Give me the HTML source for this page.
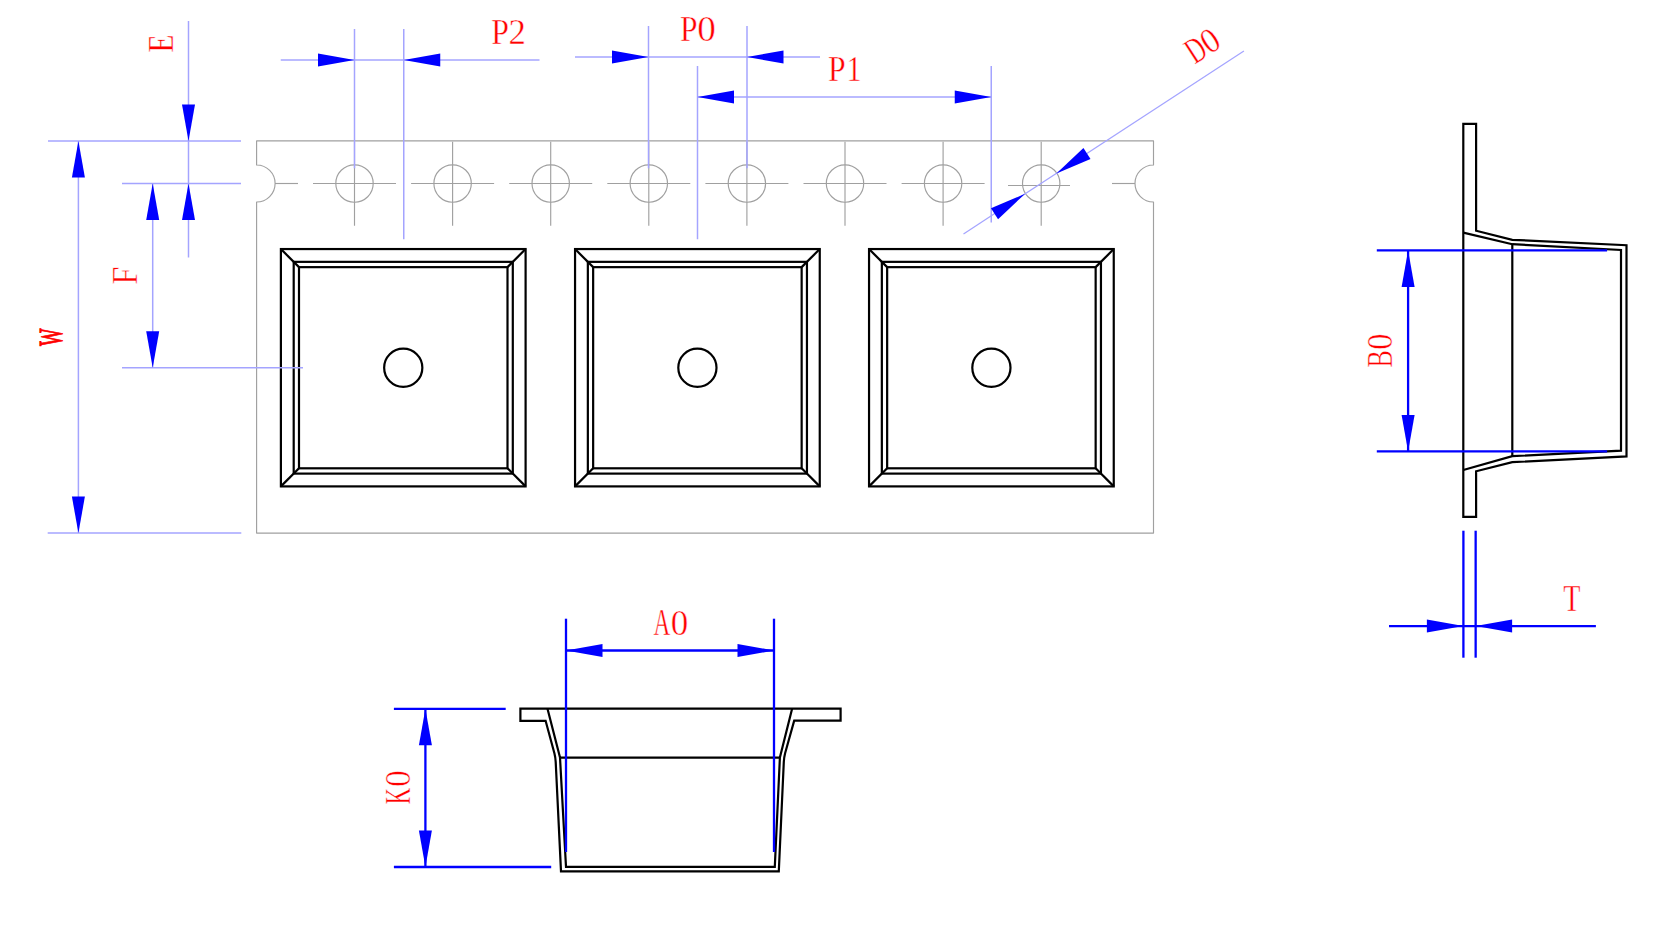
<!DOCTYPE html>
<html><head><meta charset="utf-8"><title>Carrier tape drawing</title>
<style>html,body{margin:0;padding:0;background:#fff;overflow:hidden}svg{display:block}</style></head>
<body><svg width="1666" height="930" viewBox="0 0 1666 930" font-family="Liberation Serif, serif">
<rect width="1666" height="930" fill="#fff"/>
<path d="M256.6,140.9 H1153.5 V165.0 A18.5,18.5 0 0 0 1153.5,202.0 V533.1 H256.6 V202.0 A18.5,18.5 0 0 0 256.6,165.0 Z" stroke="#a0a0a0" stroke-width="1.15" fill="none" stroke-linejoin="round"/>
<circle cx="354.50" cy="183.50" r="18.70" stroke="#a0a0a0" stroke-width="1.15" fill="none"/>
<line x1="354.50" y1="141.75" x2="354.50" y2="225.75" stroke="#a0a0a0" stroke-width="1.15"/>
<line x1="313.00" y1="183.50" x2="396.00" y2="183.50" stroke="#a0a0a0" stroke-width="1.15"/>
<circle cx="452.60" cy="183.50" r="18.70" stroke="#a0a0a0" stroke-width="1.15" fill="none"/>
<line x1="452.60" y1="141.75" x2="452.60" y2="225.75" stroke="#a0a0a0" stroke-width="1.15"/>
<line x1="411.10" y1="183.50" x2="494.10" y2="183.50" stroke="#a0a0a0" stroke-width="1.15"/>
<circle cx="550.70" cy="183.50" r="18.70" stroke="#a0a0a0" stroke-width="1.15" fill="none"/>
<line x1="550.70" y1="141.75" x2="550.70" y2="225.75" stroke="#a0a0a0" stroke-width="1.15"/>
<line x1="509.20" y1="183.50" x2="592.20" y2="183.50" stroke="#a0a0a0" stroke-width="1.15"/>
<circle cx="648.80" cy="183.50" r="18.70" stroke="#a0a0a0" stroke-width="1.15" fill="none"/>
<line x1="648.80" y1="141.75" x2="648.80" y2="225.75" stroke="#a0a0a0" stroke-width="1.15"/>
<line x1="607.30" y1="183.50" x2="690.30" y2="183.50" stroke="#a0a0a0" stroke-width="1.15"/>
<circle cx="746.90" cy="183.50" r="18.70" stroke="#a0a0a0" stroke-width="1.15" fill="none"/>
<line x1="746.90" y1="141.75" x2="746.90" y2="225.75" stroke="#a0a0a0" stroke-width="1.15"/>
<line x1="705.40" y1="183.50" x2="788.40" y2="183.50" stroke="#a0a0a0" stroke-width="1.15"/>
<circle cx="845.00" cy="183.50" r="18.70" stroke="#a0a0a0" stroke-width="1.15" fill="none"/>
<line x1="845.00" y1="141.75" x2="845.00" y2="225.75" stroke="#a0a0a0" stroke-width="1.15"/>
<line x1="803.50" y1="183.50" x2="886.50" y2="183.50" stroke="#a0a0a0" stroke-width="1.15"/>
<circle cx="943.10" cy="183.50" r="18.70" stroke="#a0a0a0" stroke-width="1.15" fill="none"/>
<line x1="943.10" y1="141.75" x2="943.10" y2="225.75" stroke="#a0a0a0" stroke-width="1.15"/>
<line x1="901.60" y1="183.50" x2="984.60" y2="183.50" stroke="#a0a0a0" stroke-width="1.15"/>
<circle cx="1041.20" cy="183.50" r="18.70" stroke="#a0a0a0" stroke-width="1.15" fill="none"/>
<line x1="1041.20" y1="141.75" x2="1041.20" y2="225.75" stroke="#a0a0a0" stroke-width="1.15"/>
<line x1="275.00" y1="183.50" x2="298.00" y2="183.50" stroke="#a0a0a0" stroke-width="1.15"/>
<line x1="1008.00" y1="185.50" x2="1070.00" y2="185.50" stroke="#a0a0a0" stroke-width="1.15"/>
<line x1="1112.00" y1="183.50" x2="1135.00" y2="183.50" stroke="#a0a0a0" stroke-width="1.15"/>
<rect x="280.90" y="249.05" width="244.70" height="237.35" stroke="#000" stroke-width="2.2" fill="none"/>
<rect x="293.70" y="261.85" width="219.10" height="211.75" stroke="#000" stroke-width="2.2" fill="none"/>
<rect x="299.00" y="267.15" width="208.50" height="201.15" stroke="#000" stroke-width="2.2" fill="none"/>
<line x1="280.90" y1="249.05" x2="299.00" y2="267.15" stroke="#000" stroke-width="2.2"/>
<line x1="525.60" y1="249.05" x2="507.50" y2="267.15" stroke="#000" stroke-width="2.2"/>
<line x1="280.90" y1="486.40" x2="299.00" y2="468.30" stroke="#000" stroke-width="2.2"/>
<line x1="525.60" y1="486.40" x2="507.50" y2="468.30" stroke="#000" stroke-width="2.2"/>
<circle cx="403.25" cy="367.70" r="19.10" stroke="#000" stroke-width="2.2" fill="none"/>
<rect x="575.05" y="249.05" width="244.70" height="237.35" stroke="#000" stroke-width="2.2" fill="none"/>
<rect x="587.85" y="261.85" width="219.10" height="211.75" stroke="#000" stroke-width="2.2" fill="none"/>
<rect x="593.15" y="267.15" width="208.50" height="201.15" stroke="#000" stroke-width="2.2" fill="none"/>
<line x1="575.05" y1="249.05" x2="593.15" y2="267.15" stroke="#000" stroke-width="2.2"/>
<line x1="819.75" y1="249.05" x2="801.65" y2="267.15" stroke="#000" stroke-width="2.2"/>
<line x1="575.05" y1="486.40" x2="593.15" y2="468.30" stroke="#000" stroke-width="2.2"/>
<line x1="819.75" y1="486.40" x2="801.65" y2="468.30" stroke="#000" stroke-width="2.2"/>
<circle cx="697.40" cy="367.70" r="19.10" stroke="#000" stroke-width="2.2" fill="none"/>
<rect x="869.05" y="249.05" width="244.70" height="237.35" stroke="#000" stroke-width="2.2" fill="none"/>
<rect x="881.85" y="261.85" width="219.10" height="211.75" stroke="#000" stroke-width="2.2" fill="none"/>
<rect x="887.15" y="267.15" width="208.50" height="201.15" stroke="#000" stroke-width="2.2" fill="none"/>
<line x1="869.05" y1="249.05" x2="887.15" y2="267.15" stroke="#000" stroke-width="2.2"/>
<line x1="1113.75" y1="249.05" x2="1095.65" y2="267.15" stroke="#000" stroke-width="2.2"/>
<line x1="869.05" y1="486.40" x2="887.15" y2="468.30" stroke="#000" stroke-width="2.2"/>
<line x1="1113.75" y1="486.40" x2="1095.65" y2="468.30" stroke="#000" stroke-width="2.2"/>
<circle cx="991.40" cy="367.70" r="19.10" stroke="#000" stroke-width="2.2" fill="none"/>
<line x1="48.00" y1="140.90" x2="241.00" y2="140.90" stroke="#a4a4ff" stroke-width="1.5"/>
<line x1="122.00" y1="183.50" x2="241.00" y2="183.50" stroke="#a4a4ff" stroke-width="1.5"/>
<line x1="78.40" y1="140.90" x2="78.40" y2="533.10" stroke="#a4a4ff" stroke-width="1.5"/>
<line x1="47.70" y1="533.10" x2="241.30" y2="533.10" stroke="#a4a4ff" stroke-width="1.5"/>
<line x1="188.50" y1="21.00" x2="188.50" y2="257.50" stroke="#a4a4ff" stroke-width="1.5"/>
<line x1="152.70" y1="183.50" x2="152.70" y2="367.70" stroke="#a4a4ff" stroke-width="1.5"/>
<line x1="122.00" y1="367.70" x2="303.00" y2="367.70" stroke="#a4a4ff" stroke-width="1.5"/>
<line x1="280.75" y1="60.00" x2="539.50" y2="60.00" stroke="#a4a4ff" stroke-width="1.5"/>
<line x1="354.50" y1="29.00" x2="354.50" y2="168.30" stroke="#a4a4ff" stroke-width="1.5"/>
<line x1="403.75" y1="29.00" x2="403.75" y2="239.25" stroke="#a4a4ff" stroke-width="1.5"/>
<line x1="575.00" y1="57.00" x2="820.00" y2="57.00" stroke="#a4a4ff" stroke-width="1.5"/>
<line x1="648.50" y1="26.00" x2="648.50" y2="168.30" stroke="#a4a4ff" stroke-width="1.5"/>
<line x1="747.00" y1="26.00" x2="747.00" y2="168.30" stroke="#a4a4ff" stroke-width="1.5"/>
<line x1="697.50" y1="66.00" x2="697.50" y2="239.25" stroke="#a4a4ff" stroke-width="1.5"/>
<line x1="697.50" y1="97.00" x2="991.25" y2="97.00" stroke="#a4a4ff" stroke-width="1.5"/>
<line x1="991.25" y1="66.00" x2="991.25" y2="222.50" stroke="#a4a4ff" stroke-width="1.5"/>
<line x1="963.50" y1="233.90" x2="1243.90" y2="51.00" stroke="#a4a4ff" stroke-width="1.25"/>
<polygon points="188.50,140.90 182.00,104.40 195.00,104.40" fill="#0000ff"/>
<polygon points="188.50,183.50 195.00,220.00 182.00,220.00" fill="#0000ff"/>
<polygon points="78.40,140.90 84.90,177.40 71.90,177.40" fill="#0000ff"/>
<polygon points="78.40,533.10 71.90,496.60 84.90,496.60" fill="#0000ff"/>
<polygon points="152.70,183.50 159.20,220.00 146.20,220.00" fill="#0000ff"/>
<polygon points="152.70,367.70 146.20,331.20 159.20,331.20" fill="#0000ff"/>
<polygon points="354.50,60.00 318.00,66.50 318.00,53.50" fill="#0000ff"/>
<polygon points="403.75,60.00 440.25,53.50 440.25,66.50" fill="#0000ff"/>
<polygon points="648.50,57.00 612.00,63.50 612.00,50.50" fill="#0000ff"/>
<polygon points="747.00,57.00 783.50,50.50 783.50,63.50" fill="#0000ff"/>
<polygon points="697.50,97.00 734.00,90.50 734.00,103.50" fill="#0000ff"/>
<polygon points="991.25,97.00 954.75,103.50 954.75,90.50" fill="#0000ff"/>
<polygon points="1056.41,173.38 1083.43,148.00 1090.53,158.89" fill="#0000ff"/>
<polygon points="1025.09,193.82 998.07,219.20 990.97,208.31" fill="#0000ff"/>
<path d="M1463.3,123.8 H1476.1 V230.7 L1512.3,239.8 L1626.5,245.2 V456.4 L1512.3,462.2 L1476.1,471.3 V516.8 H1463.3 Z" stroke="#000" stroke-width="2.2" fill="none" />
<path d="M1463.3,232.6 L1512.3,244.2 L1621,250 V450.6 L1512.3,456.2 L1463.3,470" stroke="#000" stroke-width="2.2" fill="none" />
<line x1="1512.30" y1="244.20" x2="1512.30" y2="456.20" stroke="#000" stroke-width="2.2"/>
<line x1="1376.80" y1="250.40" x2="1607.10" y2="250.40" stroke="#0000ff" stroke-width="2.3"/>
<line x1="1376.80" y1="451.40" x2="1607.10" y2="451.40" stroke="#0000ff" stroke-width="2.3"/>
<line x1="1408.10" y1="250.40" x2="1408.10" y2="451.10" stroke="#0000ff" stroke-width="2.3"/>
<polygon points="1408.10,250.40 1414.60,286.90 1401.60,286.90" fill="#0000ff"/>
<polygon points="1408.10,451.40 1401.60,414.90 1414.60,414.90" fill="#0000ff"/>
<line x1="1463.40" y1="530.70" x2="1463.40" y2="657.70" stroke="#0000ff" stroke-width="2.3"/>
<line x1="1475.65" y1="530.70" x2="1475.65" y2="657.70" stroke="#0000ff" stroke-width="2.3"/>
<line x1="1389.00" y1="626.10" x2="1595.90" y2="626.10" stroke="#0000ff" stroke-width="2.3"/>
<polygon points="1463.40,626.10 1426.90,632.60 1426.90,619.60" fill="#0000ff"/>
<polygon points="1475.65,626.10 1512.15,619.60 1512.15,632.60" fill="#0000ff"/>
<path d="M520.4,708.7 H840.6 V720.7 H794.2 L785.1,753.2 Q784,757.5 783.8,762 L778.8,871.3 H561 L555.7,762 Q555.5,757.5 554.4,753.2 L545.6,720.8 H520.4 Z" stroke="#000" stroke-width="2.2" fill="none" />
<path d="M547.5,708.7 L560,757.5 L566,866.8 H774.8 L779.9,757.5 L792.1,708.7" stroke="#000" stroke-width="2.2" fill="none" />
<line x1="560.00" y1="757.70" x2="780.00" y2="757.70" stroke="#000" stroke-width="2.2"/>
<line x1="566.00" y1="618.70" x2="566.00" y2="852.00" stroke="#0000ff" stroke-width="2.3"/>
<line x1="774.00" y1="618.70" x2="774.00" y2="852.00" stroke="#0000ff" stroke-width="2.3"/>
<line x1="566.00" y1="650.50" x2="774.00" y2="650.50" stroke="#0000ff" stroke-width="2.3"/>
<polygon points="566.00,650.50 602.50,644.00 602.50,657.00" fill="#0000ff"/>
<polygon points="774.00,650.50 737.50,657.00 737.50,644.00" fill="#0000ff"/>
<line x1="393.90" y1="708.80" x2="505.70" y2="708.80" stroke="#0000ff" stroke-width="2.3"/>
<line x1="393.90" y1="867.00" x2="551.20" y2="867.00" stroke="#0000ff" stroke-width="2.3"/>
<line x1="425.40" y1="708.80" x2="425.40" y2="867.00" stroke="#0000ff" stroke-width="2.3"/>
<polygon points="425.40,708.80 431.90,745.30 418.90,745.30" fill="#0000ff"/>
<polygon points="425.40,867.00 418.90,830.50 431.90,830.50" fill="#0000ff"/>
<text transform="translate(161.05,43.85) rotate(-90) scale(0.7406,0.9122) translate(-11.80,13.10)" font-family="Liberation Serif" font-size="40" fill="#ff0000" stroke="#fff" stroke-width="0.5">E</text>
<text transform="translate(499.90,32.20) rotate(0) scale(0.7964,0.9122) translate(-10.90,13.10)" font-family="Liberation Serif" font-size="40" fill="#ff0000" stroke="#fff" stroke-width="0.5">P</text>
<text transform="translate(516.95,32.05) rotate(0) scale(0.8688,0.9053) translate(-9.80,13.20)" font-family="Liberation Serif" font-size="40" fill="#ff0000" stroke="#fff" stroke-width="0.5">2</text>
<text transform="translate(688.65,28.95) rotate(0) scale(0.7887,0.9198) translate(-10.90,13.10)" font-family="Liberation Serif" font-size="40" fill="#ff0000" stroke="#fff" stroke-width="0.5">P</text>
<text transform="translate(706.50,29.30) rotate(0) scale(0.9286,0.9185) translate(-10.00,13.10)" font-family="Liberation Serif" font-size="40" fill="#ff0000" stroke="#fff" stroke-width="0.5">0</text>
<text transform="translate(836.70,69.45) rotate(0) scale(0.7938,0.9122) translate(-10.90,13.10)" font-family="Liberation Serif" font-size="40" fill="#ff0000" stroke="#fff" stroke-width="0.5">P</text>
<text transform="translate(854.35,69.45) rotate(0) scale(0.7500,0.9122) translate(-10.60,13.10)" font-family="Liberation Serif" font-size="40" fill="#ff0000" stroke="#fff" stroke-width="0.5">1</text>
<text transform="translate(1195.60,50.00) rotate(-33) scale(0.6154,0.9160) translate(-14.20,13.10)" font-family="Liberation Serif" font-size="40" fill="#ff0000" stroke="#fff" stroke-width="0.5">D</text>
<text transform="translate(1210.00,40.65) rotate(-33) scale(0.8095,0.8741) translate(-10.00,13.10)" font-family="Liberation Serif" font-size="40" fill="#ff0000" stroke="#fff" stroke-width="0.5">0</text>
<text transform="translate(125.05,275.75) rotate(-90) scale(0.8163,0.9008) translate(-11.00,13.10)" font-family="Liberation Serif" font-size="40" fill="#ff0000" stroke="#fff" stroke-width="0.5">F</text>
<text transform="translate(51.20,337.40) rotate(-90) scale(0.4628,0.8383) translate(-18.80,12.70)" font-family="Liberation Serif" font-size="40" fill="#ff0000" stroke="#ff0000" stroke-width="1.3">W</text>
<text transform="translate(1380.50,359.10) rotate(-90) scale(0.6610,0.9084) translate(-13.00,13.10)" font-family="Liberation Serif" font-size="40" fill="#ff0000" stroke="#fff" stroke-width="0.5">B</text>
<text transform="translate(1380.45,341.75) rotate(-90) scale(0.8274,0.9000) translate(-10.00,13.10)" font-family="Liberation Serif" font-size="40" fill="#ff0000" stroke="#fff" stroke-width="0.5">0</text>
<text transform="translate(1571.80,598.85) rotate(0) scale(0.7043,0.9423) translate(-12.30,13.00)" font-family="Liberation Serif" font-size="40" fill="#ff0000" stroke="#fff" stroke-width="0.5">T</text>
<text transform="translate(661.80,622.70) rotate(0) scale(0.5798,0.9332) translate(-14.50,13.10)" font-family="Liberation Serif" font-size="40" fill="#ff0000" stroke="#fff" stroke-width="0.5">A</text>
<text transform="translate(679.45,622.70) rotate(0) scale(0.8750,0.9185) translate(-10.00,13.10)" font-family="Liberation Serif" font-size="40" fill="#ff0000" stroke="#fff" stroke-width="0.5">0</text>
<text transform="translate(398.00,795.85) rotate(-90) scale(0.5772,0.9135) translate(-14.80,13.00)" font-family="Liberation Serif" font-size="40" fill="#ff0000" stroke="#fff" stroke-width="0.5">K</text>
<text transform="translate(397.95,778.65) rotate(-90) scale(0.8393,0.9000) translate(-10.00,13.10)" font-family="Liberation Serif" font-size="40" fill="#ff0000" stroke="#fff" stroke-width="0.5">0</text>
</svg></body></html>
